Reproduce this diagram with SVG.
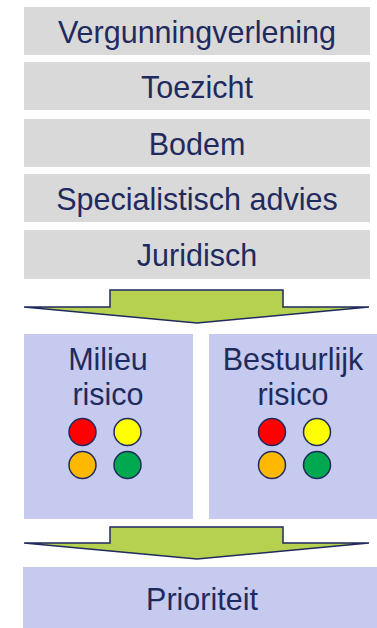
<svg xmlns="http://www.w3.org/2000/svg" width="377" height="628" viewBox="0 0 377 628">
<style>
.g{fill:#D9D9D9}
.b{fill:#C5CAEE}
.t{font-family:"Liberation Sans",Arial,sans-serif;font-size:30.5px;fill:#1F2A5E;text-anchor:middle}
.ar{fill:#B5D14F;stroke:#1F2A5E;stroke-width:1.5;stroke-linejoin:miter}
.c{stroke:#1F2A5E;stroke-width:1.5}
</style>
<rect width="377" height="628" fill="#FFFFFF"/>
<g id="vergunningverlening"><rect class="g" x="24" y="7" width="346" height="48"/><text class="t" x="197" y="43">Vergunningverlening</text></g>
<g id="toezicht"><rect class="g" x="24" y="62" width="346" height="48"/><text class="t" x="197" y="98">Toezicht</text></g>
<g id="bodem"><rect class="g" x="24" y="119" width="346" height="48"/><text class="t" x="197" y="155">Bodem</text></g>
<g id="specialistisch"><rect class="g" x="24" y="174" width="346" height="48"/><text class="t" x="197" y="210">Specialistisch advies</text></g>
<g id="juridisch"><rect class="g" x="24" y="230" width="346" height="49"/><text class="t" x="197" y="266">Juridisch</text></g>
<g id="connectors">
<polygon class="ar" points="110,290 283,290 283,307 369,307 197,323 24,307 110,307"/>
<polygon class="ar" points="110,527 283,527 283,543 369,543 197,559 24,543 110,543"/>
</g>
<g id="milieu">
<rect class="b" x="24" y="334" width="169" height="185"/>
<text class="t" x="108" y="370">Milieu</text>
<text class="t" x="108" y="405">risico</text>
<circle class="c" cx="82.5" cy="432" r="13.5" fill="#FF0000"/>
<circle class="c" cx="127.5" cy="432" r="13.5" fill="#FFFF00"/>
<circle class="c" cx="82.5" cy="465" r="13.5" fill="#FFB800"/>
<circle class="c" cx="127.5" cy="465" r="13.5" fill="#00A84F"/>
</g>
<g id="bestuurlijk">
<rect class="b" x="209" y="334" width="168" height="185"/>
<text class="t" x="293" y="370">Bestuurlijk</text>
<text class="t" x="293" y="405">risico</text>
<circle class="c" cx="272" cy="432" r="13.5" fill="#FF0000"/>
<circle class="c" cx="317" cy="432" r="13.5" fill="#FFFF00"/>
<circle class="c" cx="272" cy="465" r="13.5" fill="#FFB800"/>
<circle class="c" cx="317" cy="465" r="13.5" fill="#00A84F"/>
</g>
<g id="prioriteit"><rect class="b" x="23" y="567" width="354" height="61"/><text class="t" x="202" y="610">Prioriteit</text></g>
</svg>
